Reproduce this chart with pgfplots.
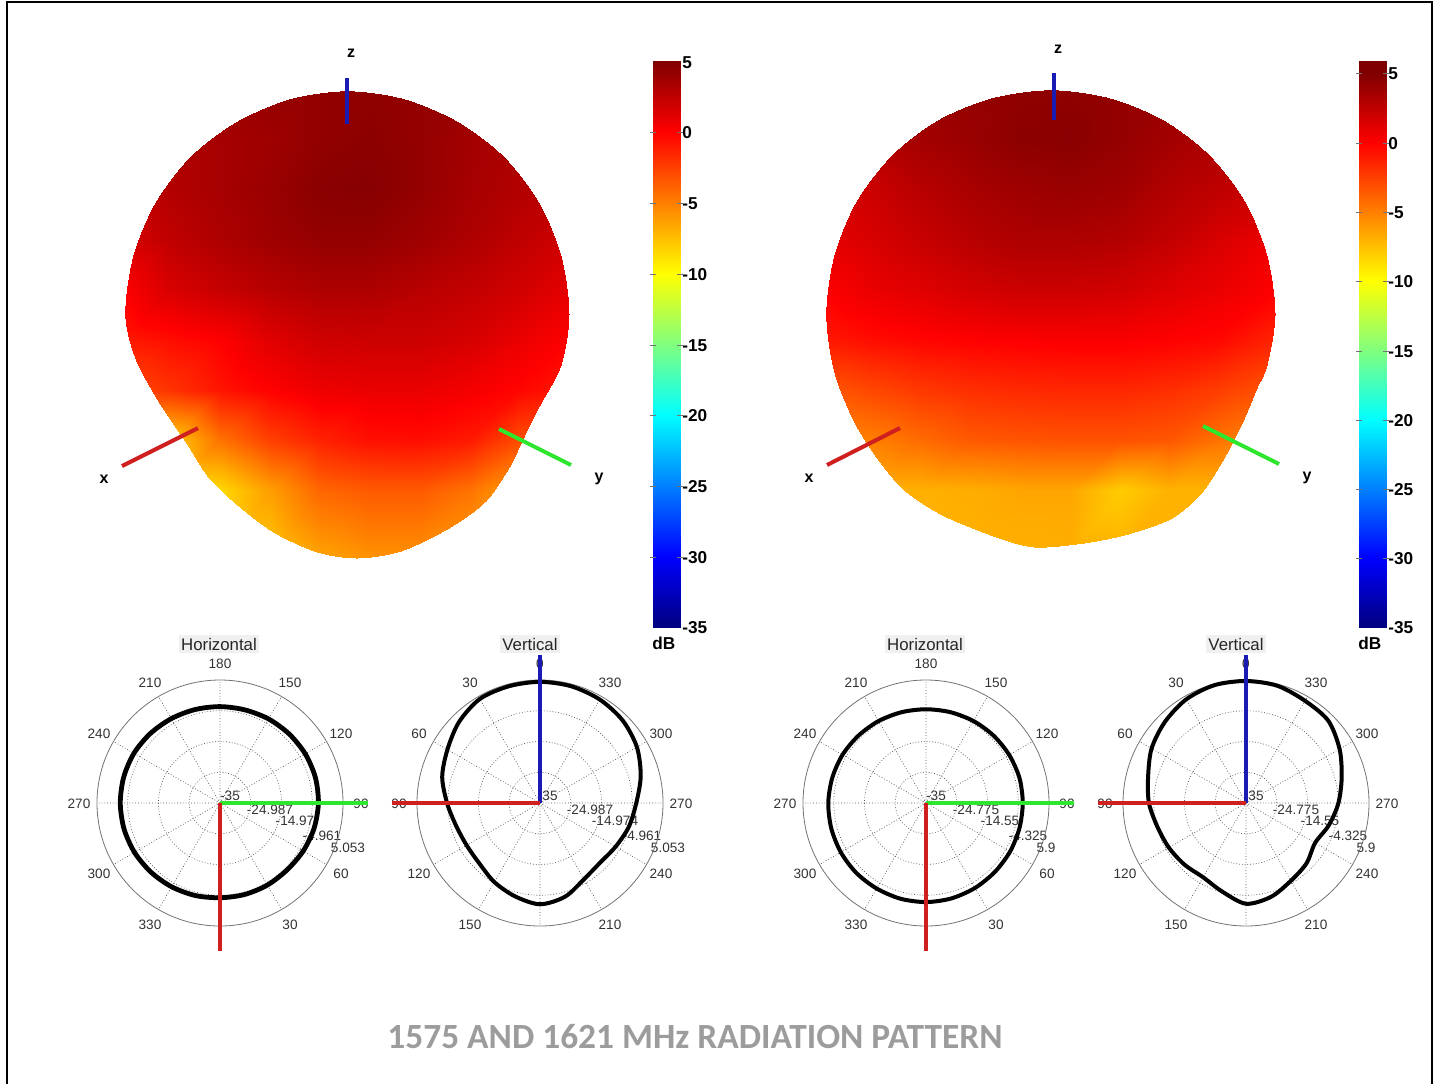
\documentclass[border=0pt]{standalone}
\usepackage{fontspec}
\setmainfont{Liberation Sans}
\newfontfamily\titlefont{Carlito}
\usepackage{pgfplots}
\usepackage{pgfplotstable}
\usepgfplotslibrary{polar}
\pgfplotsset{compat=1.18}

\definecolor{lineR}{HTML}{D01F1F}
\definecolor{lineG}{HTML}{2FE62F}
\definecolor{lineB}{HTML}{1A1AB4}
\definecolor{titlegray}{HTML}{9C9C9C}

% colour on the balloons, dB, read on a grid of picture pixels
\pgfplotstableread[row sep=\\]{
x y m\\
120 90 4\\ 170 90 4\\ 220 90 4\\ 270 90 4.2\\ 320 90 4.3\\ 370 90 4.4\\ 420 90 4.2\\ 470 90 4\\ 520 90 4\\ 570 90 4\\
120 140 3\\ 170 140 3.2\\ 220 140 3.5\\ 270 140 3.8\\ 320 140 4.3\\ 370 140 4.5\\ 420 140 4.2\\ 470 140 3.6\\ 520 140 3.2\\ 570 140 3\\
120 190 2.8\\ 170 190 3\\ 220 190 3.5\\ 270 190 4\\ 320 190 4.6\\ 370 190 4.7\\ 420 190 4.2\\ 470 190 3.5\\ 520 190 3\\ 570 190 2.5\\
120 240 1.5\\ 170 240 2.5\\ 220 240 3.2\\ 270 240 3.8\\ 320 240 4.2\\ 370 240 4.2\\ 420 240 3.8\\ 470 240 3.2\\ 520 240 2.5\\ 570 240 1.8\\
120 290 0\\ 170 290 1.5\\ 220 290 2.2\\ 270 290 2.8\\ 320 290 3.2\\ 370 290 3.2\\ 420 290 2.8\\ 470 290 2.4\\ 520 290 1.8\\ 570 290 1\\
120 340 -1\\ 170 340 -0.5\\ 220 340 0\\ 270 340 1.2\\ 320 340 1.9\\ 370 340 2\\ 420 340 2\\ 470 340 1.6\\ 520 340 0.8\\ 570 340 0\\
120 390 -3\\ 170 390 -2\\ 220 390 -0.8\\ 270 390 0\\ 320 390 0.7\\ 370 390 0.8\\ 420 390 0.8\\ 470 390 0.4\\ 520 390 -0.2\\ 570 390 -1\\
120 440 -8\\ 170 440 -8\\ 220 440 -4.5\\ 270 440 -2.5\\ 320 440 -1.3\\ 370 440 -0.6\\ 420 440 -0.5\\ 470 440 -1\\ 520 440 -3\\ 570 440 -5\\
120 490 -9\\ 170 490 -9\\ 220 490 -8.5\\ 270 490 -6.2\\ 320 490 -4\\ 370 490 -3.5\\ 420 490 -3.5\\ 470 490 -4.5\\ 520 490 -6.5\\ 570 490 -7\\
120 560 -8.5\\ 170 560 -8.5\\ 220 560 -8.5\\ 270 560 -8\\ 320 560 -6.5\\ 370 560 -5.8\\ 420 560 -5.8\\ 470 560 -6.5\\ 520 560 -7\\ 570 560 -7\\
}\ballA

\pgfplotstableread[row sep=\\]{
x y m\\
820 90 4\\ 870 90 4\\ 920 90 4\\ 970 90 4.2\\ 1020 90 4.4\\ 1070 90 4.4\\ 1120 90 4.2\\ 1170 90 4\\ 1220 90 4\\ 1280 90 4\\
820 140 3\\ 870 140 3.2\\ 920 140 3.6\\ 970 140 4\\ 1020 140 4.5\\ 1070 140 4.6\\ 1120 140 4.2\\ 1170 140 3.6\\ 1220 140 3.2\\ 1280 140 3\\
820 190 1.5\\ 870 190 2\\ 920 190 2.8\\ 970 190 3.4\\ 1020 190 3.8\\ 1070 190 4\\ 1120 190 3.8\\ 1170 190 3\\ 1220 190 2.5\\ 1280 190 2\\
820 240 1\\ 870 240 1.5\\ 920 240 2.2\\ 970 240 2.8\\ 1020 240 3.2\\ 1070 240 3.2\\ 1120 240 3\\ 1170 240 2.4\\ 1220 240 1.5\\ 1280 240 0.5\\
820 290 0\\ 870 290 0.8\\ 920 290 1.2\\ 970 290 1.7\\ 1020 290 2\\ 1070 290 2\\ 1120 290 1.8\\ 1170 290 1.3\\ 1220 290 0.8\\ 1280 290 0\\
820 340 -1\\ 870 340 -0.5\\ 920 340 -0.2\\ 970 340 0\\ 1020 340 0.1\\ 1070 340 0.2\\ 1120 340 0.2\\ 1170 340 0\\ 1220 340 -0.3\\ 1280 340 -1.5\\
820 390 -3.5\\ 870 390 -2.8\\ 920 390 -2.2\\ 970 390 -1.8\\ 1020 390 -1.6\\ 1070 390 -1.5\\ 1120 390 -1.5\\ 1170 390 -1.8\\ 1220 390 -2.4\\ 1280 390 -3.5\\
820 440 -5.5\\ 870 440 -5\\ 920 440 -4.2\\ 970 440 -3.5\\ 1020 440 -3.3\\ 1070 440 -3.2\\ 1120 440 -3.2\\ 1170 440 -3.4\\ 1220 440 -4.5\\ 1280 440 -6.5\\
820 490 -7\\ 870 490 -7\\ 920 490 -6.9\\ 970 490 -6.8\\ 1020 490 -6.5\\ 1070 490 -6.5\\ 1120 490 -8\\ 1170 490 -7\\ 1220 490 -7\\ 1280 490 -7\\
820 550 -7\\ 870 550 -7\\ 920 550 -7\\ 970 550 -7\\ 1020 550 -6.9\\ 1070 550 -6.8\\ 1120 550 -7\\ 1170 550 -7\\ 1220 550 -7\\ 1280 550 -7\\
}\ballB

\pgfplotstableread[row sep=\\]{
x y m\\
653 61 5\\ 680 61 5\\ 653 132 0\\ 680 132 0\\ 653 203 -5\\ 680 203 -5\\ 653 274 -10\\ 680 274 -10\\ 653 345 -15\\ 680 345 -15\\
653 415 -20\\ 680 415 -20\\ 653 486 -25\\ 680 486 -25\\ 653 557 -30\\ 680 557 -30\\ 653 627 -35\\ 680 627 -35\\
}\barA

\pgfplotstableread[row sep=\\]{
x y m\\
1359 61 5\\ 1386 61 5\\ 1359 73 5\\ 1386 73 5\\ 1359 143 0\\ 1386 143 0\\ 1359 212 -5\\ 1386 212 -5\\ 1359 281 -10\\ 1386 281 -10\\ 1359 351 -15\\ 1386 351 -15\\
1359 420 -20\\ 1386 420 -20\\ 1359 489 -25\\ 1386 489 -25\\ 1359 558 -30\\ 1386 558 -30\\ 1359 627 -35\\ 1386 627 -35\\
}\barB

% cuts, angle as labelled on each polar plot, dB
\pgfplotstableread[row sep=\\]{
a db\\ 0 -4.15\\ 15 -4.15\\ 30 -4.15\\ 45 -4.15\\ 60 -3.72\\ 75 -3.28\\ 90 -2.96\\ 105 -2.85\\ 120 -2.96\\ 135 -3.18\\ 150 -3.39\\ 165 -3.61\\
180 -3.61\\ 195 -3.50\\ 210 -3.28\\ 225 -2.96\\ 240 -2.63\\ 255 -2.53\\ 270 -2.53\\ 285 -2.63\\ 300 -2.85\\ 315 -3.18\\ 330 -3.50\\ 345 -3.82\\
}\horA
\pgfplotstableread[row sep=\\]{
a db\\ 0 4.46\\ 15 4.35\\ 30 4.14\\ 45 2.30\\ 60 -0.19\\ 75 -2.03\\ 90 -4.73\\ 105 -6.68\\ 120 -7.43\\ 135 -7.11\\ 150 -5.27\\ 165 -3.54\\
180 -2.03\\ 195 -3.43\\ 210 -6.35\\ 225 -7.43\\ 240 -6.57\\ 255 -5.05\\ 270 -3.65\\ 285 -1.05\\ 300 1.43\\ 315 3.05\\ 330 3.92\\ 345 4.35\\
}\verA
\pgfplotstableread[row sep=\\]{
a db\\ 0 -2.06\\ 15 -2.17\\ 30 -2.39\\ 45 -2.61\\ 60 -2.72\\ 75 -2.83\\ 90 -2.83\\ 105 -2.83\\ 120 -3.05\\ 135 -3.27\\ 150 -3.50\\ 165 -3.72\\
180 -3.83\\ 195 -3.72\\ 210 -3.50\\ 225 -3.27\\ 240 -2.94\\ 255 -2.72\\ 270 -2.50\\ 285 -2.39\\ 300 -2.28\\ 315 -2.17\\ 330 -2.17\\ 345 -2.06\\
}\horB
\pgfplotstableread[row sep=\\]{
a db\\ 0 5.57\\ 15 5.57\\ 30 4.79\\ 45 3.14\\ 60 1.26\\ 75 -1.29\\ 90 -2.72\\ 105 -4.49\\ 120 -5.37\\ 135 -6.04\\ 150 -6.48\\ 165 -4.49\\
180 -1.50\\ 195 -2.72\\ 210 -5.15\\ 225 -6.59\\ 240 -8.47\\ 255 -6.48\\ 270 -4.27\\ 285 -2.06\\ 300 0.93\\ 315 3.69\\ 330 4.24\\ 345 5.35\\
}\verB

\tikzset{
  lab/.style={font=\fontsize{6.8}{7}\selectfont,text=black!80,inner sep=0pt,yshift=-0.6pt},
  ptitle/.style={font=\fontsize{8.4}{9}\selectfont,text=black!85,fill=black!6,inner sep=1.2pt},
  barlab/.style={font=\fontsize{8.6}{9}\selectfont\bfseries,inner sep=0pt,anchor=west,yshift=-0.5pt},
  axlab/.style={font=\fontsize{8}{9}\selectfont\bfseries,inner sep=0pt,yshift=-0.5pt},
}

% ring values and angle labels, around a centre given in picture pixels
\newcommand{\hlabels}[2]{
  \node[lab] at (axis cs:#1,#2-140) {180};
  \node[lab] at (axis cs:#1+70,#2-121) {150};
  \node[lab] at (axis cs:#1+121,#2-70) {120};
  \node[lab] at (axis cs:#1+141,#2) {90};
  \node[lab] at (axis cs:#1+121,#2+70) {60};
  \node[lab] at (axis cs:#1+70,#2+121) {30};
  \node[lab] at (axis cs:#1-70,#2-121) {210};
  \node[lab] at (axis cs:#1-121,#2-70) {240};
  \node[lab] at (axis cs:#1-141,#2) {270};
  \node[lab] at (axis cs:#1-121,#2+70) {300};
  \node[lab] at (axis cs:#1-70,#2+121) {330};
}
\newcommand{\vlabels}[2]{
  \node[lab] at (axis cs:#1,#2-140) {0};
  \node[lab] at (axis cs:#1-70,#2-121) {30};
  \node[lab] at (axis cs:#1-121,#2-70) {60};
  \node[lab] at (axis cs:#1-141,#2) {90};
  \node[lab] at (axis cs:#1-121,#2+70) {120};
  \node[lab] at (axis cs:#1-70,#2+121) {150};
  \node[lab] at (axis cs:#1+70,#2-121) {330};
  \node[lab] at (axis cs:#1+121,#2-70) {300};
  \node[lab] at (axis cs:#1+141,#2) {270};
  \node[lab] at (axis cs:#1+121,#2+70) {240};
  \node[lab] at (axis cs:#1+70,#2+121) {210};
}
\newcommand{\rings}[6]{
  \node[lab] at (axis cs:#1+10,#2-8) {#3};
  \node[lab] at (axis cs:#1+50,#2+6) {#4};
  \node[lab] at (axis cs:#1+75,#2+17) {#5};
  \node[lab] at (axis cs:#1+102,#2+32) {-4.961};
  \node[lab] at (axis cs:#1+128,#2+44) {#6};
}
\newcommand{\ringsB}[6]{
  \node[lab] at (axis cs:#1+10,#2-8) {#3};
  \node[lab] at (axis cs:#1+50,#2+6) {#4};
  \node[lab] at (axis cs:#1+74,#2+17) {#5};
  \node[lab] at (axis cs:#1+102,#2+32) {-4.325};
  \node[lab] at (axis cs:#1+120,#2+44) {#6};
}

\pgfplotsset{
  pat/.style={
    width=123pt,height=123pt,scale only axis,anchor=center,clip=false,
    xmin=0,xmax=360,ymin=0,
    xtick={0,30,...,330},xticklabels={},yticklabels={},
    major tick length=0pt,
    grid=major,
    grid style={densely dotted,black!65,line width=0.35pt},
    x axis line style={black!55,line width=0.4pt},
    y axis line style={draw=none},
  },
  barticks/.style={only marks,mark=-,mark size=1.6pt,black!55,mark options={line width=0.4pt}},
}

\begin{document}
\begin{tikzpicture}
\useasboundingbox (0,0) rectangle (719pt,542pt);
\begin{axis}[
  at={(0,0)},anchor=south west,
  width=719pt,height=542pt,scale only axis,
  xmin=0,xmax=1438,ymin=0,ymax=1084,y dir=reverse,
  hide axis,clip=false,
  colormap/jet,point meta min=-35,point meta max=5,
]
\addplot[black,line width=1pt] coordinates {(7,1084) (7,2) (1432,2) (1432,1084)};

\begin{scope}
\clip plot[smooth cycle,tension=0.5] coordinates {(347,91) (404,99) (458,122) (504,157) (539,203) (561,256) (569,314) (561,365) (540,405) (523,439) (510,466) (486,501) (449,528) (401,551) (357,558) (317,552) (273,532) (236,504) (208,477) (188,446) (158,401) (135,358) (125,314) (133,256) (155,203) (190,157) (236,122) (290,99)};
\addplot[surf,shader=interp,mesh/cols=10,point meta=explicit] table[x=x,y=y,meta=m] {\ballA};
\end{scope}
\begin{scope}
\clip plot[smooth cycle,tension=0.5] coordinates {(1051,90) (1109,98) (1163,120) (1209,155) (1245,202) (1267,256) (1275,314) (1267,365) (1257,388) (1244,419) (1227,453) (1203,491) (1172,518) (1128,534) (1084,543) (1034,547) (993,536) (942,515) (905,491) (878,460) (854,422) (834,372) (826,314) (834,256) (856,202) (892,155) (938,120) (992,98)};
\addplot[surf,shader=interp,mesh/cols=10,point meta=explicit] table[x=x,y=y,meta=m] {\ballB};
\end{scope}

\addplot[lineB,line width=2pt] coordinates {(347,78) (347,124)};
\addplot[lineR,line width=2pt] coordinates {(122,466) (198,428)};
\addplot[lineG,line width=2pt] coordinates {(499,429) (571,465)};
\addplot[lineB,line width=2pt] coordinates {(1054,73) (1054,120)};
\addplot[lineR,line width=2pt] coordinates {(827,465) (900,428)};
\addplot[lineG,line width=2pt] coordinates {(1203,426) (1279,464)};

\addplot[surf,shader=interp,mesh/cols=2,point meta=explicit] table[x=x,y=y,meta=m] {\barA};
\addplot[surf,shader=interp,mesh/cols=2,point meta=explicit] table[x=x,y=y,meta=m] {\barB};
\addplot[barticks] coordinates {(653,132) (680,132) (653,203) (680,203) (653,274) (680,274) (653,345) (680,345) (653,415) (680,415) (653,486) (680,486) (653,557) (680,557)};
\addplot[barticks] coordinates {(1359,73) (1386,73) (1359,143) (1386,143) (1359,212) (1386,212) (1359,281) (1386,281) (1359,351) (1386,351) (1359,420) (1386,420) (1359,489) (1386,489) (1359,558) (1386,558)};

\node[axlab] at (axis cs:351,52) {z};
\node[axlab] at (axis cs:104,478) {x};
\node[axlab] at (axis cs:599,478) {y};
\node[axlab] at (axis cs:1058,48) {z};
\node[axlab] at (axis cs:809,477) {x};
\node[axlab] at (axis cs:1307,477) {y};

\node[barlab] at (axis cs:682,62) {5};
\node[barlab] at (axis cs:682,132) {0};
\node[barlab] at (axis cs:682,203) {-5};
\node[barlab] at (axis cs:682,274) {-10};
\node[barlab] at (axis cs:682,345) {-15};
\node[barlab] at (axis cs:682,415) {-20};
\node[barlab] at (axis cs:682,486) {-25};
\node[barlab] at (axis cs:682,557) {-30};
\node[barlab] at (axis cs:682,627) {-35};
\node[barlab] at (axis cs:652,642) {dB};
\node[barlab] at (axis cs:1388,73) {5};
\node[barlab] at (axis cs:1388,143) {0};
\node[barlab] at (axis cs:1388,212) {-5};
\node[barlab] at (axis cs:1388,281) {-10};
\node[barlab] at (axis cs:1388,351) {-15};
\node[barlab] at (axis cs:1388,420) {-20};
\node[barlab] at (axis cs:1388,489) {-25};
\node[barlab] at (axis cs:1388,558) {-30};
\node[barlab] at (axis cs:1388,627) {-35};
\node[barlab] at (axis cs:1358,642) {dB};

\node[ptitle] at (axis cs:219,644) {Horizontal};
\node[ptitle] at (axis cs:530,644) {Vertical};
\node[ptitle] at (axis cs:925,644) {Horizontal};
\node[ptitle] at (axis cs:1236,644) {Vertical};

\hlabels{220}{803}
\vlabels{540}{803}
\hlabels{926}{803}
\vlabels{1246}{803}
\rings{220}{803}{-35}{-24.987}{-14.97}{5.053}
\rings{540}{803}{35}{-24.987}{-14.974}{5.053}
\ringsB{926}{803}{-35}{-24.775}{-14.55}{5.9}
\ringsB{1246}{803}{35}{-24.775}{-14.55}{5.9}

\node[font=\titlefont\bfseries\fontsize{17.7}{19}\selectfont,text=titlegray,inner sep=0pt] at (axis cs:695,1037) {1575 AND 1621 MHz RADIATION PATTERN};
\end{axis}

\begin{polaraxis}[pat,at={(110pt,140.5pt)},ymax=40.053,ytick={10.013,20.03,30.04}]
\addplot[black,line width=2.4pt,smooth cycle] table[x expr=\thisrow{a}-90,y expr=\thisrow{db}+35] {\horA};
\addplot[lineG,line width=2pt] coordinates {(0,0) (0,48.2)};
\addplot[lineR,line width=2pt] coordinates {(270,0) (270,48.2)};
\end{polaraxis}
\begin{polaraxis}[pat,at={(270pt,140.5pt)},ymax=40.053,ytick={10.013,20.03,30.04}]
\addplot[black,line width=2pt,smooth cycle] table[x expr=\thisrow{a}+90,y expr=\thisrow{db}+35] {\verA};
\addplot[lineB,line width=2pt] coordinates {(90,0) (90,48.2)};
\addplot[lineR,line width=2pt] coordinates {(180,0) (180,48.2)};
\end{polaraxis}
\begin{polaraxis}[pat,at={(463pt,140.5pt)},ymax=40.9,ytick={10.225,20.45,30.675}]
\addplot[black,line width=2pt,smooth cycle] table[x expr=\thisrow{a}-90,y expr=\thisrow{db}+35] {\horB};
\addplot[lineG,line width=2pt] coordinates {(0,0) (0,49.2)};
\addplot[lineR,line width=2pt] coordinates {(270,0) (270,49.2)};
\end{polaraxis}
\begin{polaraxis}[pat,at={(623pt,140.5pt)},ymax=40.9,ytick={10.225,20.45,30.675}]
\addplot[black,line width=2pt,smooth cycle] table[x expr=\thisrow{a}+90,y expr=\thisrow{db}+35] {\verB};
\addplot[lineB,line width=2pt] coordinates {(90,0) (90,49.2)};
\addplot[lineR,line width=2pt] coordinates {(180,0) (180,49.2)};
\end{polaraxis}
\end{tikzpicture}
\end{document}
